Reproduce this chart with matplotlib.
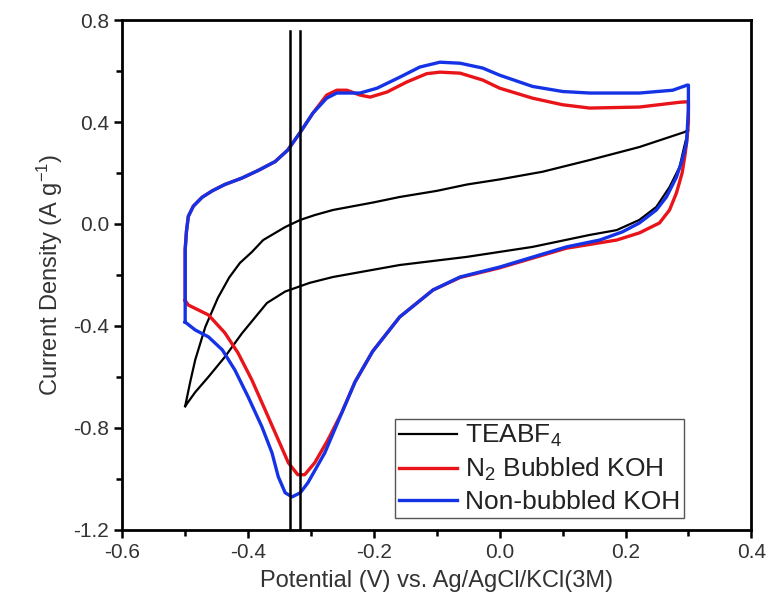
import numpy as np
import matplotlib.pyplot as plt
from matplotlib.ticker import MultipleLocator

plt.rcParams['font.family'] = ['Liberation Sans', 'DejaVu Sans']
plt.rcParams['mathtext.default'] = 'regular'

# TEABF4 (black): forward sweep then reverse sweep
teabf4_x = [-0.5, -0.492, -0.484, -0.468, -0.448, -0.43, -0.413, -0.394, -0.376, -0.341,
            -0.317, -0.294, -0.265, -0.2, -0.159, -0.1, -0.052, 0.0, 0.068, 0.143, 0.222,
            0.294, 0.3,
            0.298, 0.293, 0.286, 0.27, 0.249, 0.222, 0.186, 0.143, 0.052, -0.052, -0.159,
            -0.265, -0.302, -0.341, -0.370, -0.410, -0.437, -0.463, -0.484, -0.5]
teabf4_y = [-0.715, -0.62, -0.533, -0.404, -0.29, -0.21, -0.153, -0.11, -0.063, -0.012,
            0.016, 0.035, 0.055, 0.085, 0.106, 0.13, 0.155, 0.175, 0.205, 0.251, 0.302,
            0.361, 0.37,
            0.35, 0.30, 0.224, 0.145, 0.067, 0.016, -0.024, -0.043, -0.09, -0.129, -0.161,
            -0.208, -0.231, -0.265, -0.31, -0.43, -0.522, -0.6, -0.66, -0.715]

# N2 bubbled KOH (red)
n2_x = [-0.5, -0.5, -0.5, -0.498, -0.495, -0.487, -0.473, -0.457, -0.437, -0.41, -0.384,
        -0.357, -0.337, -0.317, -0.297, -0.275, -0.259, -0.243, -0.222, -0.206, -0.179,
        -0.148, -0.116, -0.095, -0.063, -0.027, 0.0, 0.052, 0.1, 0.143, 0.222, 0.287, 0.3,
        0.3, 0.298, 0.295, 0.29, 0.281, 0.27, 0.254, 0.222, 0.186, 0.106, 0.0, -0.063,
        -0.106, -0.159, -0.202, -0.23, -0.251, -0.273, -0.294, -0.310, -0.321, -0.336,
        -0.352, -0.373, -0.394, -0.416, -0.437, -0.463, -0.495, -0.5]
n2_y = [-0.3, -0.2, -0.1, -0.03, 0.03, 0.07, 0.105, 0.13, 0.155, 0.18, 0.21,
        0.245, 0.29, 0.36, 0.435, 0.506, 0.525, 0.525, 0.506, 0.498, 0.518,
        0.557, 0.59, 0.596, 0.592, 0.565, 0.533, 0.494, 0.468, 0.455, 0.459, 0.478, 0.48,
        0.40, 0.34, 0.278, 0.2, 0.122, 0.055, 0.004, -0.035, -0.063, -0.095, -0.172, -0.21,
        -0.259, -0.365, -0.5, -0.62, -0.74, -0.847, -0.937, -0.984, -0.984, -0.937,
        -0.847, -0.729, -0.612, -0.506, -0.427, -0.357, -0.318, -0.3]

# Non-bubbled KOH (blue)
nb_x = [-0.5, -0.5, -0.5, -0.498, -0.495, -0.487, -0.473, -0.457, -0.437, -0.41, -0.384,
        -0.357, -0.337, -0.317, -0.297, -0.275, -0.259, -0.238, -0.222, -0.195, -0.159,
        -0.127, -0.095, -0.063, -0.027, 0.0, 0.052, 0.1, 0.143, 0.222, 0.275, 0.298, 0.3,
        0.3, 0.297, 0.29, 0.281, 0.265, 0.249, 0.222, 0.195, 0.159, 0.106, 0.0, -0.063,
        -0.106, -0.159, -0.202, -0.23, -0.251, -0.278, -0.305, -0.317, -0.330, -0.341,
        -0.352, -0.362, -0.378, -0.4, -0.421, -0.441, -0.463, -0.484, -0.5]
nb_y = [-0.385, -0.2, -0.1, -0.03, 0.03, 0.07, 0.105, 0.13, 0.155, 0.18, 0.21,
        0.245, 0.29, 0.36, 0.435, 0.494, 0.514, 0.514, 0.514, 0.533, 0.576,
        0.616, 0.635, 0.631, 0.612, 0.584, 0.54, 0.52, 0.514, 0.514, 0.525, 0.545, 0.545,
        0.45, 0.318, 0.251, 0.184, 0.106, 0.055, 0.004, -0.031, -0.063, -0.09, -0.169, -0.208,
        -0.259, -0.365, -0.5, -0.62, -0.741, -0.898, -1.016, -1.055, -1.071, -1.055,
        -0.992, -0.898, -0.796, -0.678, -0.573, -0.494, -0.443, -0.416, -0.385]

# vertical marker lines
vline_x = [-0.334, -0.317]
vline_top = 0.757

fig = plt.figure(figsize=(7.69, 6.11), dpi=100)
ax = fig.add_axes([0.159, 0.133, 0.818, 0.834])

ax.plot(teabf4_x, teabf4_y, color='black', lw=1.6, label='TEABF$_4$')
ax.plot(n2_x, n2_y, color='#e8141a', lw=2.4, label='N$_2$ Bubbled KOH')
ax.plot(nb_x, nb_y, color='#1533e6', lw=2.4, label='Non-bubbled KOH')

for xv in vline_x:
    ax.plot([xv, xv], [-1.2, vline_top], color='black', lw=1.8)

ax.set_xlim(-0.6, 0.4)
ax.set_ylim(-1.2, 0.8)
ax.xaxis.set_major_locator(MultipleLocator(0.2))
ax.xaxis.set_minor_locator(MultipleLocator(0.1))
ax.yaxis.set_major_locator(MultipleLocator(0.4))
ax.yaxis.set_minor_locator(MultipleLocator(0.2))
ax.xaxis.set_major_formatter(plt.FuncFormatter(lambda v, p: f'{v:.1f}'))
ax.yaxis.set_major_formatter(plt.FuncFormatter(lambda v, p: f'{v:.1f}'))

for s in ax.spines.values():
    s.set_linewidth(2.0)
ax.tick_params(which='both', direction='out', top=False, right=False, width=1.8,
               labelsize=15, labelcolor='#333333')
ax.tick_params(which='major', length=6)
ax.tick_params(which='minor', length=4)

ax.set_xlabel('Potential (V) vs. Ag/AgCl/KCl(3M)', fontsize=17, color='#333333', labelpad=6)
ax.set_ylabel('Current Density (A g$^{-1}$)', fontsize=17, color='#333333', labelpad=6)

leg = ax.legend(loc='lower left', bbox_to_anchor=(0.434, 0.0235), fontsize=19,
                frameon=True, fancybox=False, framealpha=1, edgecolor='#555555',
                handlelength=2.2, handletextpad=0.3, labelspacing=0.25, borderpad=0.15,
                borderaxespad=0)
leg.get_frame().set_linewidth(1.0)
for t in leg.get_texts():
    t.set_color('#222222')

fig.savefig('out.png', dpi=100)
